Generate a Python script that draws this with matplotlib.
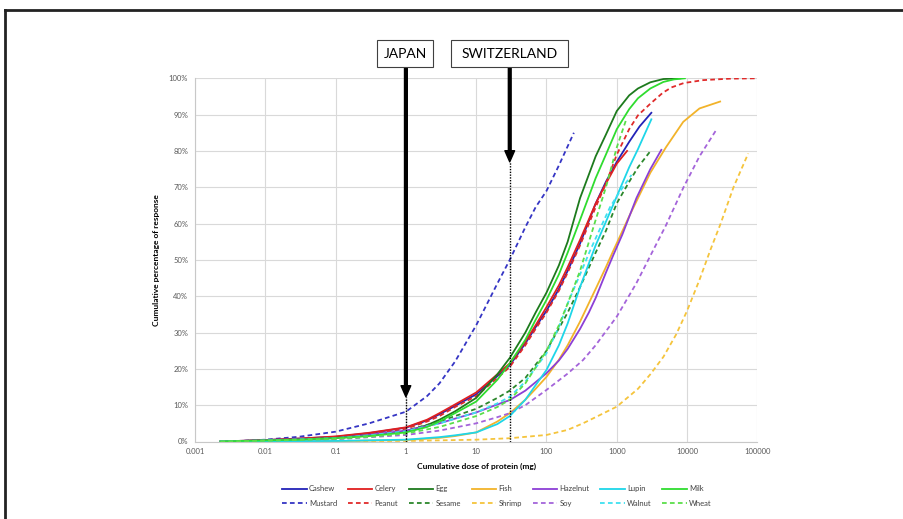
import matplotlib
matplotlib.use("Agg")
import matplotlib.pyplot as plt
from matplotlib.lines import Line2D
from matplotlib.patches import Rectangle

plt.rcParams['font.family'] = ['Lato', 'DejaVu Sans']

# allergen dose distributions (dose in mg, cumulative %)
cashew_dose = [0.0023, 0.01, 0.03, 0.1, 0.3, 1, 2, 3, 5, 10, 20, 30, 50, 70, 100, 150, 200,
               300, 500, 700, 1000, 1500, 2100, 3100]
cashew_pct = [0, 0.4, 0.8, 1.3, 2.3, 3.8, 5.8, 7.5, 9.8, 13, 18, 21, 27, 31.5, 36, 42, 47,
              54.5, 65.5, 71.5, 77, 82.5, 86.7, 90.5]
celery_dose = [0.0023, 0.01, 0.03, 0.1, 0.3, 1, 2, 3, 5, 10, 20, 30, 50, 70, 100, 150, 200,
               300, 500, 700, 1000, 1400]
celery_pct = [0, 0.4, 0.8, 1.4, 2.4, 3.9, 6, 7.8, 10.2, 13.5, 18.5, 21.5, 27.5, 32, 37, 43, 48,
              55.5, 65.5, 71, 76.5, 80]
egg_dose = [0.0023, 0.01, 0.03, 0.1, 0.3, 1, 2, 3, 5, 10, 20, 30, 50, 70, 100, 150, 200, 300,
            500, 700, 1000, 1500, 2000, 3000, 4600, 8000]
egg_pct = [0, 0.3, 0.6, 1, 1.7, 2.8, 4.5, 6, 8.3, 12, 18.5, 23, 30, 35.5, 41, 48.5, 55, 67,
           78.5, 84.5, 91, 95.3, 97.2, 98.9, 99.8, 100]
fish_dose = [0.0023, 0.1, 1, 3, 5, 10, 20, 30, 50, 70, 100, 150, 200, 300, 500, 700, 900,
             1500, 2000, 3000, 5000, 8800, 15000, 29500]
fish_pct = [0, 0.1, 0.4, 1, 1.5, 2.5, 5.5, 7.8, 11.5, 14.5, 17.8, 22.5, 26.5, 33, 42, 48, 52.7,
            62, 67, 74, 81, 88, 91.7, 93.6]
hazelnut_dose = [0.0023, 0.01, 0.1, 0.3, 1, 3, 5, 10, 20, 30, 50, 100, 150, 200, 300, 400, 500,
                 700, 900, 1200, 1900, 3000, 4300]
hazelnut_pct = [0, 0.3, 0.9, 1.8, 3, 5, 6.3, 8, 10.2, 11.4, 14, 18.8, 22.3, 25.5, 31, 35.5,
                39.5, 46.5, 51.5, 57, 67, 75, 80.3]
lupin_dose = [0.0023, 0.1, 1, 3, 5, 10, 20, 30, 50, 70, 100, 150, 200, 300, 400, 500, 700,
              1000, 1500, 2000, 3100]
lupin_pct = [0, 0.15, 0.5, 1.2, 1.7, 2.5, 4.8, 7, 11.5, 15.5, 19.7, 26.5, 32.5, 42.5, 49,
             54, 60.5, 67.5, 75.5, 80.5, 88.7]
milk_dose = [0.0023, 0.01, 0.03, 0.1, 0.3, 1, 2, 3, 5, 10, 20, 30, 50, 70, 100, 150, 200, 300,
             500, 700, 1000, 1500, 2000, 3000, 4600, 6500, 9300]
milk_pct = [0, 0.3, 0.5, 0.9, 1.5, 2.5, 4, 5.5, 7.8, 11, 17, 21.5, 28, 33.5, 39, 46, 52, 61,
            72.5, 79, 86, 91.5, 94.5, 97.2, 99, 99.7, 100]
mustard_dose = [0.0023, 0.005, 0.01, 0.03, 0.1, 0.3, 1, 2, 3, 5, 10, 20, 30, 50, 70, 100, 150,
                245]
mustard_pct = [0, 0.2, 0.5, 1.3, 2.7, 5, 8.2, 12.5, 16, 22, 32, 43.5, 50, 59, 64.5, 69, 76, 85]
peanut_dose = [0.0023, 0.01, 0.03, 0.1, 0.3, 1, 2, 3, 5, 10, 20, 30, 50, 70, 100, 150, 200,
               300, 500, 700, 1000, 1500, 2000, 3000, 4500, 6000, 9000, 17000, 40000, 100000]
peanut_pct = [0, 0.3, 0.6, 1.1, 2, 3.5, 5.5, 7, 9.5, 12.5, 17.5, 20.5, 26.5, 31, 35.5, 41.5,
              46.5, 54, 64.5, 71, 79, 86, 89.8, 93, 96, 97.5, 98.7, 99.5, 99.9, 100]
sesame_dose = [0.0023, 0.01, 0.1, 0.3, 1, 3, 5, 10, 20, 30, 50, 100, 200, 300, 500, 700, 1000,
               1500, 2000, 3100]
sesame_pct = [0, 0.2, 0.8, 1.6, 3, 5.5, 7, 9, 12, 14, 17.5, 25, 35.5, 42.5, 52, 58, 65.6,
              71.5, 75.5, 80.3]
shrimp_dose = [0.0023, 1, 10, 30, 100, 200, 330, 500, 1000, 2000, 3000, 4600, 7000, 10000,
               15000, 21400, 30000, 45700, 74000]
shrimp_pct = [0, 0.15, 0.5, 0.9, 1.8, 3.2, 5, 6.7, 9.6, 14.5, 18.5, 23.3, 29.5, 36, 44.5, 52.7,
              60, 70, 79.3]
soy_dose = [0.0023, 0.01, 0.1, 1, 3, 10, 20, 30, 50, 100, 200, 330, 500, 1000, 1900, 3300,
            5000, 8900, 15000, 26000]
soy_pct = [0, 0.2, 0.6, 1.8, 3, 5, 6.7, 7.8, 10, 14.2, 18.7, 22.4, 26.5, 34.4, 43.6, 52.7,
           59.5, 70, 78.5, 85.8]
walnut_dose = [0.0023, 0.01, 0.1, 0.3, 1, 3, 10, 20, 30, 50, 100, 150, 210, 300, 420, 575, 800,
               1000, 1300, 1620]
walnut_pct = [0, 0.3, 0.9, 1.7, 2.8, 5, 8, 10.5, 12.3, 16.5, 24.3, 31.5, 39, 46, 52.7, 58.5,
              64.5, 67.5, 70.8, 73.4]
wheat_dose = [0.0023, 0.01, 0.1, 0.3, 1, 3, 10, 20, 30, 50, 100, 150, 200, 300, 500, 700, 1000,
              1380]
wheat_pct = [0, 0.2, 0.7, 1.3, 2.2, 4, 7, 9.5, 11.5, 16, 25, 32, 38, 47, 61, 70, 81, 89]

solid = [("Cashew", cashew_dose, cashew_pct, "#2323b8"),
         ("Celery", celery_dose, celery_pct, "#e01f1f"),
         ("Egg", egg_dose, egg_pct, "#1d7a1d"),
         ("Fish", fish_dose, fish_pct, "#f2b32a"),
         ("Hazelnut", hazelnut_dose, hazelnut_pct, "#8c3fd6"),
         ("Lupin", lupin_dose, lupin_pct, "#1ed6e8"),
         ("Milk", milk_dose, milk_pct, "#2fdc2f")]
dashed = [("Mustard", mustard_dose, mustard_pct, "#3535c4"),
          ("Peanut", peanut_dose, peanut_pct, "#e02a2a"),
          ("Sesame", sesame_dose, sesame_pct, "#2b872b"),
          ("Shrimp", shrimp_dose, shrimp_pct, "#f5c43c"),
          ("Soy", soy_dose, soy_pct, "#a464da"),
          ("Walnut", walnut_dose, walnut_pct, "#3fe0f0"),
          ("Wheat", wheat_dose, wheat_pct, "#5ade4a")]

# threshold markers
countries = ["JAPAN", "SWITZERLAND"]
country_dose = [1, 30]
arrow_tip_pct = [12.3, 77]

W, H = 904, 519
fig = plt.figure(figsize=(W / 100, H / 100), dpi=100)
ax = fig.add_axes([195 / W, 1 - 441.5 / H, (757.4 - 195) / W, (441.5 - 78.3) / H])

handles = []
for i in range(7):
    for k, (name, d, p, c) in enumerate((solid[i], dashed[i])):
        ls = "-" if k == 0 else (0, (2.6, 1.8))
        ln, = ax.plot(d, p, color=c, lw=1.3, ls=ls, label=name)
        handles.append(ln)

ax.set_xscale("log")
ax.set_xlim(0.001, 100000)
ax.set_ylim(0, 100)
xt = [0.001, 0.01, 0.1, 1, 10, 100, 1000, 10000, 100000]
ax.set_xticks(xt)
ax.set_xticklabels(["0.001", "0.01", "0.1", "1", "10", "100", "1000", "10000", "100000"])
ax.minorticks_off()
ax.set_yticks(range(0, 101, 10))
ax.set_yticklabels([f"{v}%" for v in range(0, 101, 10)])
ax.tick_params(length=0, labelsize=5.5, labelcolor="#595959", pad=5)
ax.grid(True, color="#d9d9d9", lw=0.8)
ax.set_axisbelow(True)
for s in ["top", "right"]:
    ax.spines[s].set_visible(False)
for s in ["left", "bottom"]:
    ax.spines[s].set_color("#c8c8c8")
    ax.spines[s].set_linewidth(0.8)

ax.set_xlabel("Cumulative dose of protein (mg)", fontsize=6, fontweight="bold", labelpad=5)
ax.set_ylabel("Cumulative percentage of response", fontsize=6, fontweight="bold", labelpad=6)

# arrows, dotted drops and country boxes (box extents in pixels)
boxes = [(377, 433), (451, 568)]
for name, d, tip, (bx0, bx1) in zip(countries, country_dose, arrow_tip_pct, boxes):
    ax.annotate("", xy=(d, tip), xytext=(d, 1.031), xycoords="data",
                textcoords=("data", "axes fraction"), annotation_clip=False,
                arrowprops=dict(width=2, headwidth=7, headlength=8, facecolor="black",
                                edgecolor="black", shrink=0))
    ax.plot([d, d], [0, tip], color="black", lw=1, ls=(0, (1, 1)), zorder=5)
    fig.add_artist(Rectangle((bx0 / W, 1 - 67 / H), (bx1 - bx0) / W, 27 / H,
                             transform=fig.transFigure, fc="white", ec="#404040", lw=0.8))
    fig.text((bx0 + bx1) / 2 / W, 1 - 54 / H, name, fontsize=10, ha="center", va="center")

leg = fig.legend(handles=handles, ncol=7, loc="center", bbox_to_anchor=(497 / W, 1 - 496 / H),
                 frameon=False, fontsize=5.5, handlelength=3.2, handletextpad=0.3,
                 columnspacing=1.4, labelspacing=1.0)
for t in leg.get_texts():
    t.set_color("#404040")

# outer frame (top and left edges visible)
fig.add_artist(Line2D([5 / W, 1], [1 - 10 / H, 1 - 10 / H], color="#222222", lw=2))
fig.add_artist(Line2D([5 / W, 5 / W], [0, 1 - 10 / H], color="#222222", lw=2))

fig.savefig("out.png", dpi=100)
